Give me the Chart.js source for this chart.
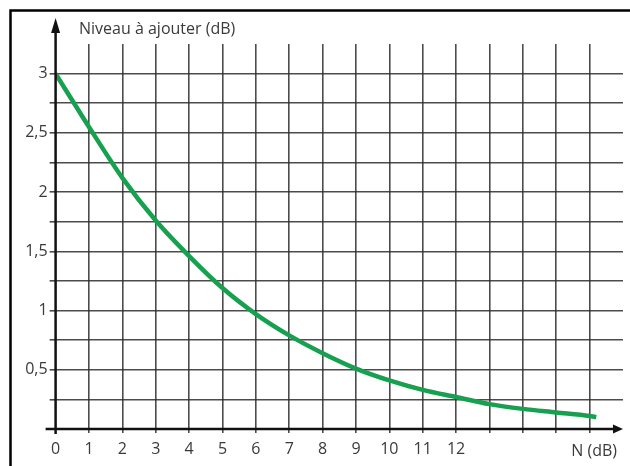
<!DOCTYPE html>
<html>
  <head>
    <title>Niveau à ajouter</title>
    <style>
      html, body{ margin: 0; padding: 0; background-color: #fff; }
      canvas{ display: block; }
    </style>
    <script src="https://cdn.jsdelivr.net/npm/chart.js"></script>
  </head>
  <body>
    <canvas id="myChart" width="630" height="466"></canvas>

    <script>
      // Data
      const ecart = [0, 1, 2, 3, 4, 5, 6, 7, 8, 9, 10, 11, 12, 13, 14, 15, 16, 16.2];
      const niveau = [3.0, 2.55, 2.12, 1.76, 1.46, 1.19, 0.97, 0.79, 0.64, 0.51, 0.41, 0.33, 0.27, 0.21, 0.17, 0.14, 0.11, 0.10];
      const xLabels = ['0', '1', '2', '3', '4', '5', '6', '7', '8', '9', '10', '11', '12'];
      const yLabels = { 0.5: '0,5', 1: '1', 1.5: '1,5', 2: '2', 2.5: '2,5', 3: '3' };

      const textColor = '#3a3a3a';
      const gridColor = 'rgba(45,45,45,0.85)';
      const font = { family: '"Open Sans", sans-serif', size: 16 };

      // axes with arrows, frame and the two axis names
      const decor = {
        id: 'decor',
        beforeDraw(chart) {
          const c = chart.ctx;
          c.save();
          c.fillStyle = '#fff';
          c.fillRect(0, 0, chart.width, chart.height);
          c.restore();
        },
        afterDraw(chart) {
          const c = chart.ctx;
          const x = chart.scales.x, y = chart.scales.y;
          const x0 = x.getPixelForValue(0), y0 = y.getPixelForValue(0);
          const xEnd = x.getPixelForValue(17);
          c.save();
          // frame
          c.strokeStyle = '#000';
          c.lineWidth = 2.5;
          c.strokeRect(10.5, 10.5, 700, 700);
          // axes
          c.strokeStyle = '#111';
          c.fillStyle = '#111';
          c.lineWidth = 2.5;
          c.beginPath();
          c.moveTo(x0 - 10, y0);
          c.lineTo(xEnd - 8, y0);
          c.moveTo(x0, y0 + 5);
          c.lineTo(x0, 30);
          c.stroke();
          // arrows
          c.beginPath();
          c.moveTo(xEnd, y0);
          c.lineTo(xEnd - 10, y0 - 4.5);
          c.lineTo(xEnd - 10, y0 + 4.5);
          c.closePath();
          c.fill();
          c.beginPath();
          c.moveTo(x0, 18);
          c.lineTo(x0 - 4.5, 33);
          c.lineTo(x0 + 4.5, 33);
          c.closePath();
          c.fill();
          // axis names
          c.fillStyle = textColor;
          c.font = '16px "Open Sans", sans-serif';
          c.textBaseline = 'middle';
          c.textAlign = 'left';
          c.fillText('Niveau à ajouter (dB)', 79, 29);
          c.textAlign = 'right';
          c.fillText('N (dB)', 617, 451);
          c.restore();
        }
      };

      const ctx = document.getElementById('myChart').getContext('2d');
      const myChart = new Chart(ctx, {
        type: 'line',
        data: {
          datasets: [
            {
              label: 'Niveau à ajouter',
              data: ecart.map((v, i) => ({ x: v, y: niveau[i] })),
              borderColor: '#17a04f',
              borderWidth: 4.5,
              pointRadius: 0,
              cubicInterpolationMode: 'monotone',
              fill: false
            }
          ]
        },
        options: {
          responsive: false,
          animation: false,
          layout: { padding: { left: 0, top: 44, right: 6.6, bottom: 0 } },
          plugins: {
            legend: { display: false },
            tooltip: { enabled: false }
          },
          scales: {
            x: {
              type: 'linear',
              min: 0,
              max: 17,
              afterFit(scale) { scale.height = 37; },
              border: { display: false },
              grid: {
                color: c => (c.tick && (c.tick.value === 0 || c.tick.value === 17)) ? 'transparent' : gridColor,
                lineWidth: 1.6,
                tickLength: 4
              },
              ticks: {
                stepSize: 1,
                autoSkip: false,
                maxRotation: 0,
                color: textColor,
                font: font,
                padding: 7,
                callback: v => xLabels[v] !== undefined ? xLabels[v] : ''
              }
            },
            y: {
              min: 0,
              max: 3.25,
              afterFit(scale) { scale.width = 55.6; },
              border: { display: false },
              grid: {
                color: c => (c.tick && (c.tick.value === 0 || c.tick.value >= 3.25)) ? 'transparent' : gridColor,
                lineWidth: 1.6,
                tickLength: 6
              },
              ticks: {
                stepSize: 0.25,
                autoSkip: false,
                color: textColor,
                font: font,
                padding: 2,
                callback: v => yLabels[v] || ''
              }
            }
          }
        },
        plugins: [decor]
      });
    </script>
  </body>
</html>
